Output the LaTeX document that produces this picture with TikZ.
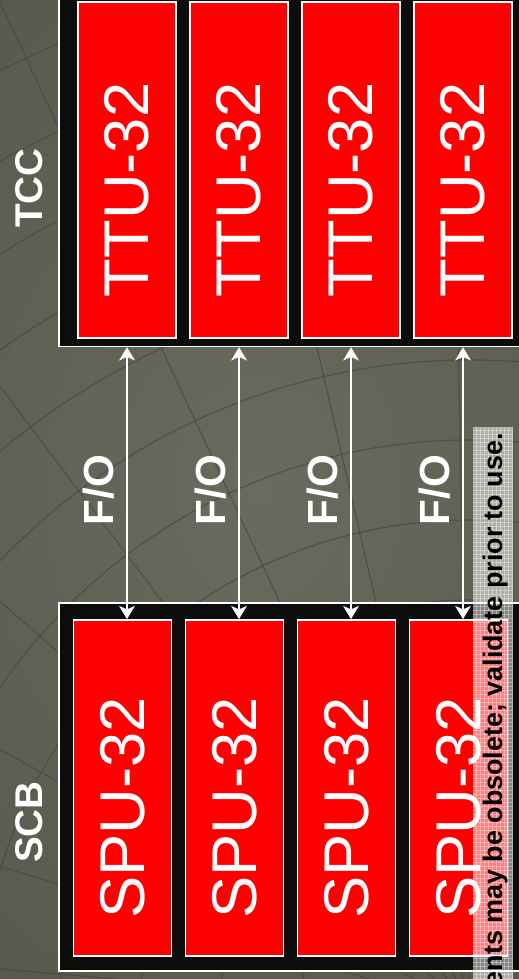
\documentclass[tikz,border=0pt]{standalone}
\usepackage{fontspec}
\setmainfont{Liberation Sans}
\usetikzlibrary{arrows.meta}
\definecolor{crbg}{RGB}{88,90,78}
\definecolor{crbglight}{RGB}{106,106,94}
\definecolor{crgrid}{RGB}{66,68,58}
\definecolor{crblack}{RGB}{12,12,10}
\definecolor{crred}{RGB}{255,0,0}
\tikzset{
  crate/.style={draw=white, line width=.9pt, fill=crblack},
  unitbox/.style={draw=white, line width=1.1pt, fill=crred, minimum width=1.96cm, minimum height=6.72cm, inner sep=0pt},
  unitlab/.style={text=white, rotate=90, font=\fontsize{36}{40}\selectfont},
  cratelab/.style={text=white, rotate=90, font=\bfseries\fontsize{22}{26}\selectfont},
  fiblab/.style={text=white, rotate=90, font=\bfseries\fontsize{24}{28}\selectfont},
  fiberarr/.style={{Stealth[length=7.5pt,width=9pt,inset=2pt]}-{Stealth[length=7.5pt,width=9pt,inset=2pt]}, line width=.85pt, draw=white},
  bggrid/.style={draw=crgrid, line width=.7pt, opacity=.6}
}

\begin{document}
\begin{tikzpicture}[x=.02cm, y=-.02cm]
  \useasboundingbox (0,0) rectangle (519,979);
  \begin{scope}
    \clip (0,0) rectangle (519,979);
    \shade[inner color=crbglight, outer color=crbg] (-200,-100) rectangle (719,1079);
    \foreach \r in {170,250,...,1050}
      \draw[bggrid] (470,1010) circle (\r);
    \foreach \a in {185,197,...,269}
      \draw[bggrid] (470,1010) -- ++(\a:1300);
    \node[crate, minimum width=9.62cm, minimum height=7.13cm] (tcc) at (299.5,168.25) {};
    \node[crate, minimum width=9.62cm, minimum height=7.36cm] (scb) at (299.5,787) {};
  \end{scope}
  \foreach \i in {0,...,3} {
    \node[unitbox] (ttu\i) at (127+112*\i,170) {};
    \node[unitlab] at ([yshift=-.4cm]ttu\i.center) {TTU-32};
    \node[unitbox] (spu\i) at (122.5+112*\i,788) {};
    \node[unitlab] at ([yshift=-.4cm]spu\i.center) {SPU-32};
    \draw[fiberarr] (ttu\i.south |- tcc.south) -- (spu\i.north -| ttu\i.south);
    \node[fiblab] (fo\i) at (99+112*\i,490) {F/O};
  }
  \node[cratelab] (tcclab) at (29,188) {TCC};
  \node[cratelab] (scblab) at (29,822) {SCB};
  \begin{scope}
    \clip (0,0) rectangle (519,979);
    \fill[white, opacity=.5] (473,427) rectangle (513,979);
    \foreach \g in {476,480,...,512}
      \draw[white, opacity=.35, line width=.3pt] (\g,427) -- (\g,979);
    \foreach \g in {430,434,...,978}
      \draw[white, opacity=.35, line width=.3pt] (473,\g) -- (513,\g);
    \node[rotate=90, anchor=base east, inner sep=0pt, font=\bfseries\fontsize{15.3}{18}\selectfont] (note) at (502,433) {ents may be obsolete; validate prior to use.};
  \end{scope}
\end{tikzpicture}
\end{document}
